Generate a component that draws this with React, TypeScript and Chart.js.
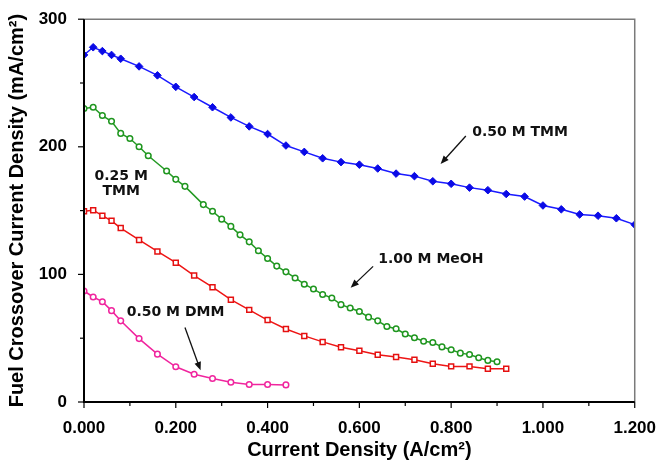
import React, { useEffect, useRef } from "react";
import { Chart, registerables } from "chart.js";

Chart.register(...registerables);

// 0.50 M TMM (blue, filled diamonds)
const tmm050X = [0, 0.02, 0.04, 0.06, 0.08, 0.12, 0.16, 0.2, 0.24, 0.28, 0.32, 0.36, 0.4, 0.44, 0.48, 0.52, 0.56, 0.6, 0.64, 0.68, 0.72, 0.76, 0.8, 0.84, 0.88, 0.92, 0.96, 1.0, 1.04, 1.08, 1.12, 1.16, 1.2];
const tmm050Y = [272, 278, 275, 272, 269, 263, 256, 247, 239, 231, 223, 216, 210, 201, 196, 191, 188, 186, 183, 179, 177, 173, 171, 168, 166, 163, 161, 154, 151, 147, 146, 144, 139];

// 1.00 M MeOH (green, open circles)
const meohX = [0, 0.02, 0.04, 0.06, 0.08, 0.1, 0.12, 0.14, 0.18, 0.2, 0.22, 0.26, 0.28, 0.3, 0.32, 0.34, 0.36, 0.38, 0.4, 0.42, 0.44, 0.46, 0.48, 0.5, 0.52, 0.54, 0.56, 0.58, 0.6, 0.62, 0.64, 0.66, 0.68, 0.7, 0.72, 0.74, 0.76, 0.78, 0.8, 0.82, 0.84, 0.86, 0.88, 0.9];
const meohY = [230, 231, 224.5, 220, 210.5, 206.5, 200, 193, 181, 174.5, 169, 154.7, 149.5, 143.3, 137.6, 131, 125.5, 118.5, 112.5, 106.5, 102, 97.2, 92.3, 88.5, 84.3, 81.5, 76.3, 73.7, 70.9, 66.5, 63.6, 59.2, 57.4, 53.3, 50.4, 47.6, 46.6, 43.2, 40.9, 38.3, 37.2, 34.7, 32.6, 31.6];

// 0.25 M TMM (red, open squares)
const tmm025X = [0, 0.02, 0.04, 0.06, 0.08, 0.12, 0.16, 0.2, 0.24, 0.28, 0.32, 0.36, 0.4, 0.44, 0.48, 0.52, 0.56, 0.6, 0.64, 0.68, 0.72, 0.76, 0.8, 0.84, 0.88, 0.92];
const tmm025Y = [149.5, 150.3, 146, 142, 136.3, 127, 118, 109.2, 99.1, 90, 80.2, 72.2, 64.2, 57.2, 51.8, 47.1, 42.9, 40.1, 37, 35.2, 33.1, 30, 27.9, 27.9, 26.1, 26.1];

// 0.50 M DMM (pink, open circles)
const dmmX = [0, 0.02, 0.04, 0.06, 0.08, 0.12, 0.16, 0.2, 0.24, 0.28, 0.32, 0.36, 0.4, 0.44];
const dmmY = [87, 82.3, 78.6, 71.6, 63.6, 49.7, 37.5, 27.6, 21.7, 18.4, 15.5, 13.7, 13.7, 13.4];

const xTicks = [0, 0.2, 0.4, 0.6, 0.8, 1.0, 1.2];
const yTicks = [0, 100, 200, 300];

// annotations (data coordinates)
const labelTexts = ["0.50 M TMM", "1.00 M MeOH", "0.25 M", "TMM", "0.50 M DMM"];
const labelX = [0.846, 0.641, 0.081, 0.081, 0.093];
const labelY = [211, 111.5, 176.7, 165, 70];
const labelAlign = ["left", "left", "center", "center", "left"];
const arrowFromX = [0.832, 0.63, 0.22];
const arrowFromY = [208.5, 106.3, 58.4];
const arrowToX = [0.777, 0.581, 0.254];
const arrowToY = [186.5, 89.5, 24.8];

const pts = (xs: number[], ys: number[]) => xs.map((x, i) => ({ x, y: ys[i] }));

const annotPlugin = {
  id: "annot",
  afterDatasetsDraw(chart: any) {
    const { ctx, chartArea, scales } = chart;
    const xs = scales.x;
    const ys = scales.y;
    ctx.save();
    // frame top & right
    ctx.strokeStyle = "#7a7a7a";
    ctx.lineWidth = 1.5;
    ctx.beginPath();
    ctx.moveTo(chartArea.left, chartArea.top);
    ctx.lineTo(chartArea.right, chartArea.top);
    ctx.lineTo(chartArea.right, chartArea.bottom);
    ctx.stroke();
    // left & bottom axes
    ctx.strokeStyle = "#000";
    ctx.lineWidth = 2;
    ctx.beginPath();
    ctx.moveTo(chartArea.left, chartArea.top);
    ctx.lineTo(chartArea.left, chartArea.bottom);
    ctx.lineTo(chartArea.right, chartArea.bottom);
    ctx.stroke();
    // ticks
    ctx.lineWidth = 1.2;
    for (let v = 0; v <= 300; v += 50) {
      const py = ys.getPixelForValue(v);
      const len = v % 100 === 0 ? 6 : 4;
      ctx.beginPath();
      ctx.moveTo(chartArea.left - len, py);
      ctx.lineTo(chartArea.left, py);
      ctx.stroke();
    }
    for (let i = 0; i <= 12; i++) {
      const v = i / 10;
      const px = xs.getPixelForValue(v);
      const len = i % 2 === 0 ? 6 : 4;
      ctx.beginPath();
      ctx.moveTo(px, chartArea.bottom);
      ctx.lineTo(px, chartArea.bottom + len);
      ctx.stroke();
    }
    // labels
    ctx.fillStyle = "#111";
    ctx.font = "bold 14px 'DejaVu Sans'";
    ctx.textBaseline = "middle";
    labelTexts.forEach((t, i) => {
      ctx.textAlign = labelAlign[i];
      ctx.fillText(t, xs.getPixelForValue(labelX[i]), ys.getPixelForValue(labelY[i]));
    });
    // arrows
    ctx.strokeStyle = "#111";
    ctx.fillStyle = "#111";
    ctx.lineWidth = 1.3;
    arrowFromX.forEach((_, i) => {
      const x1 = xs.getPixelForValue(arrowFromX[i]);
      const y1 = ys.getPixelForValue(arrowFromY[i]);
      const x2 = xs.getPixelForValue(arrowToX[i]);
      const y2 = ys.getPixelForValue(arrowToY[i]);
      const a = Math.atan2(y2 - y1, x2 - x1);
      const hl = 9;
      const hw = 0.38;
      ctx.beginPath();
      ctx.moveTo(x1, y1);
      ctx.lineTo(x2 - Math.cos(a) * 5, y2 - Math.sin(a) * 5);
      ctx.stroke();
      ctx.beginPath();
      ctx.moveTo(x2, y2);
      ctx.lineTo(x2 - hl * Math.cos(a - hw), y2 - hl * Math.sin(a - hw));
      ctx.lineTo(x2 - hl * Math.cos(a + hw), y2 - hl * Math.sin(a + hw));
      ctx.closePath();
      ctx.fill();
    });
    ctx.restore();
  },
};

export default function App() {
  const ref = useRef<HTMLCanvasElement | null>(null);
  useEffect(() => {
    document.body.style.margin = "0";
    const canvas = ref.current!;
    const tickFont = { family: "'Liberation Sans', Arial, sans-serif", size: 17, weight: "bold" as const };
    const titleFont = { family: "'Liberation Sans', Arial, sans-serif", size: 20, weight: "bold" as const };
    const chart = new Chart(canvas, {
      type: "scatter",
      data: {
        datasets: [
          {
            label: "0.50 M TMM",
            data: pts(tmm050X, tmm050Y),
            showLine: true,
            borderColor: "#1a1aff",
            backgroundColor: "#0a0ae6",
            borderWidth: 1.5,
            pointStyle: "rectRot",
            pointRadius: 3.8,
            pointBorderColor: "#0a0ae6",
            pointBackgroundColor: "#0a0ae6",
            pointBorderWidth: 1,
          },
          {
            label: "1.00 M MeOH",
            data: pts(meohX, meohY),
            showLine: true,
            borderColor: "#259a25",
            borderWidth: 1.5,
            pointStyle: "circle",
            pointRadius: 2.8,
            pointBorderColor: "#1f961f",
            pointBackgroundColor: "#ffffff",
            pointBorderWidth: 1.5,
          },
          {
            label: "0.25 M TMM",
            data: pts(tmm025X, tmm025Y),
            showLine: true,
            borderColor: "#ee1515",
            borderWidth: 1.5,
            pointStyle: "rect",
            pointRadius: 3.5,
            pointBorderColor: "#e51010",
            pointBackgroundColor: "#ffffff",
            pointBorderWidth: 1.5,
          },
          {
            label: "0.50 M DMM",
            data: pts(dmmX, dmmY),
            showLine: true,
            borderColor: "#f0259e",
            borderWidth: 1.5,
            pointStyle: "circle",
            pointRadius: 2.8,
            pointBorderColor: "#f0259e",
            pointBackgroundColor: "#ffffff",
            pointBorderWidth: 1.5,
          },
        ],
      },
      options: {
        animation: false,
        responsive: false,
        devicePixelRatio: 1,
        layout: { padding: { left: 0, right: 24, top: 16, bottom: 0 } },
        plugins: { legend: { display: false }, tooltip: { enabled: false } },
        scales: {
          x: {
            type: "linear",
            min: 0,
            max: 1.2,
            grid: { display: false },
            border: { display: false },
            afterBuildTicks: (s: any) => {
              s.ticks = xTicks.map((v) => ({ value: v }));
            },
            afterFit: (s: any) => {
              s.height = 63;
            },
            ticks: {
              color: "#000",
              font: tickFont,
              padding: 8,
              maxRotation: 0,
              callback: (v: any) => Number(v).toFixed(3),
            },
            title: {
              display: true,
              text: "Current Density (A/cm²)",
              color: "#000",
              font: titleFont,
              padding: { top: 0, bottom: 3 },
            },
          },
          y: {
            type: "linear",
            min: 0,
            max: 300,
            grid: { display: false },
            border: { display: false },
            afterBuildTicks: (s: any) => {
              s.ticks = yTicks.map((v) => ({ value: v }));
            },
            afterFit: (s: any) => {
              s.width = 84;
            },
            ticks: {
              color: "#000",
              font: tickFont,
              padding: 9,
              callback: (v: any) => String(v),
            },
            title: {
              display: true,
              text: "Fuel Crossover Current Density (mA/cm²)",
              color: "#000",
              font: titleFont,
              padding: { top: 5, bottom: 0 },
            },
          },
        },
      },
      plugins: [annotPlugin],
    });
    return () => chart.destroy();
  }, []);
  return (
    <div style={{ width: 664, height: 465 }}>
      <canvas ref={ref} width={664} height={465} />
    </div>
  );
}
